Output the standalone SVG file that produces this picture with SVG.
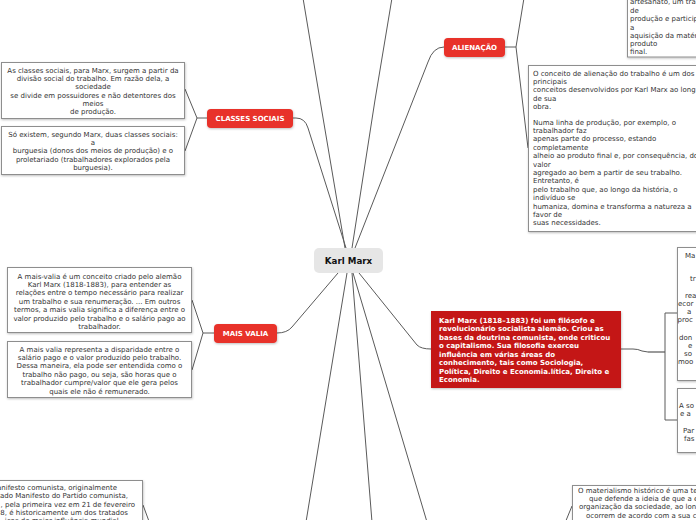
<svg xmlns="http://www.w3.org/2000/svg" width="696" height="520" viewBox="0 0 696 520">
<defs>
<filter id="sh" x="-10%" y="-20%" width="130%" height="150%">
<feDropShadow dx="0.5" dy="1" stdDeviation="0.8" flood-color="#000" flood-opacity="0.25"/>
</filter>
<style>
.box{fill:#fff;stroke:#8e8e8e;stroke-width:1;filter:url(#sh)}
.t{font-family:"DejaVu Sans",Verdana,sans-serif;font-size:7px;fill:#333}
.c{text-anchor:middle}
.e{text-anchor:end}
.red{fill:#e8302a;filter:url(#sh)}
.lbl{font-family:"DejaVu Sans",Verdana,sans-serif;font-size:7px;font-weight:bold;fill:#fff;text-anchor:middle}
.ln{fill:none;stroke:#5a5a5a;stroke-width:1}
</style>
</defs>
<rect width="696" height="520" fill="#fff"/>
<g id="connectors">
<path class="ln" d="M320,100 L303,-2 M320,100 L345,248"/>
<path class="ln" d="M375,100 L392,-2 M375,100 L352,248"/>
<path class="ln" d="M355,248 L428,62 Q433,47 444,47"/>
<path class="ln" d="M346,248 L308,128 Q305,118 296,118 L293,118"/>
<path class="ln" d="M338,273 L292,327 Q287,333 277,333"/>
<path class="ln" d="M359,273 L417,345 Q421,349 431,349"/>
<path class="ln" d="M347,273 L306,522"/>
<path class="ln" d="M352,273 L372,522"/>
<path class="ln" d="M353,273 L427,522"/>
<path class="ln" d="M505,47 L516,47 L524,-2 M516,47 L528,148"/>
<path class="ln" d="M207,118 L197,118 L185,89 M197,118 L185,151"/>
<path class="ln" d="M214,333 L203,333 L192,300 M203,333 L192,370"/>
<path class="ln" d="M621,349 L633,349 Q638,349 642,351 L648,352"/>
<path fill="none" stroke="#9a9a9a" stroke-width="2" d="M648,352 L665,352"/>
<path class="ln" d="M677,313 L665,313 L665,420 L677,420"/>
<path class="ln" d="M150,524 L143,505"/>
<path class="ln" d="M565,523 L572,506"/>
</g>
<g id="karl-marx">
<rect x="314" y="248" width="69" height="25" rx="5" fill="#e6e6e6"/>
<text x="348.5" y="264" font-family="DejaVu Sans,Verdana,sans-serif" font-size="8.7" font-weight="bold" fill="#111" text-anchor="middle">Karl Marx</text>
</g>
<g id="alienacao">
<rect class="red" x="444" y="38" width="61" height="19" rx="4"/>
<text class="lbl" x="474.5" y="50">ALIENAÇÃO</text>
</g>
<g id="alienacao-artesanato">
<rect class="box" x="627.5" y="-20" width="80" height="77"/>
<text class="t"><tspan x="630" y="4">artesanato, um tra</tspan><tspan x="630" y="12.5">de</tspan><tspan x="630" y="21">produção e particip</tspan><tspan x="630" y="29.5">a</tspan><tspan x="630" y="37.5">aquisição da matér</tspan><tspan x="630" y="46">produto</tspan><tspan x="630" y="54">final.</tspan></text>
</g>
<g id="alienacao-conceito">
<rect class="box" x="528.5" y="65.5" width="180" height="166"/>
<text class="t"><tspan x="533" y="75.5">O conceito de alienação do trabalho é um dos</tspan><tspan x="533" y="83.8">principais</tspan><tspan x="533" y="92.2">conceitos desenvolvidos por Karl Marx ao long</tspan><tspan x="533" y="100.5">de sua</tspan><tspan x="533" y="108.8">obra.</tspan><tspan x="533" y="124.5">Numa linha de produção, por exemplo, o</tspan><tspan x="533" y="132.9">trabalhador faz</tspan><tspan x="533" y="141.3">apenas parte do processo, estando</tspan><tspan x="533" y="149.7">completamente</tspan><tspan x="533" y="158.1">alheio ao produto final e, por consequência, do</tspan><tspan x="533" y="166.5">valor</tspan><tspan x="533" y="174.9">agregado ao bem a partir de seu trabalho.</tspan><tspan x="533" y="183.3">Entretanto, é</tspan><tspan x="533" y="191.7">pelo trabalho que, ao longo da história, o</tspan><tspan x="533" y="200.1">indivíduo se</tspan><tspan x="533" y="208.5">humaniza, domina e transforma a natureza a</tspan><tspan x="533" y="216.9">favor de</tspan><tspan x="533" y="225.3">suas necessidades.</tspan></text>
</g>
<g id="classes-sociais">
<rect class="red" x="207" y="109" width="86" height="19" rx="4"/>
<text class="lbl" x="250" y="121">CLASSES SOCIAIS</text>
</g>
<g id="classes-divisao">
<rect class="box" x="1.5" y="62.5" width="183" height="56"/>
<text class="t c"><tspan x="93" y="72.5">As classes sociais, para Marx, surgem a partir da</tspan><tspan x="93" y="80.8">divisão social do trabalho. Em razão dela, a</tspan><tspan x="93" y="89.2">sociedade</tspan><tspan x="93" y="97.5">se divide em possuidores e não detentores dos</tspan><tspan x="93" y="105.8">meios</tspan><tspan x="93" y="114.2">de produção.</tspan></text>
</g>
<g id="classes-duas">
<rect class="box" x="1.5" y="126.5" width="183" height="48"/>
<text class="t c"><tspan x="93" y="136.5">Só existem, segundo Marx, duas classes sociais:</tspan><tspan x="93" y="144.8">a</tspan><tspan x="93" y="153.2">burguesia (donos dos meios de produção) e o</tspan><tspan x="93" y="161.5">proletariado (trabalhadores explorados pela</tspan><tspan x="93" y="169.8">burguesia).</tspan></text>
</g>
<g id="mais-valia">
<rect class="red" x="214" y="324" width="63" height="19" rx="4"/>
<text class="lbl" x="245.5" y="336">MAIS VALIA</text>
</g>
<g id="mais-valia-conceito">
<rect class="box" x="7.5" y="267.5" width="184" height="65"/>
<text class="t c"><tspan x="99.5" y="278.5">A mais-valia é um conceito criado pelo alemão</tspan><tspan x="99.5" y="286.9">Karl Marx (1818-1883), para entender as</tspan><tspan x="99.5" y="295.3">relações entre o tempo necessário para realizar</tspan><tspan x="99.5" y="303.7">um trabalho e sua renumeração. ... Em outros</tspan><tspan x="99.5" y="312.1">termos, a mais valia significa a diferença entre o</tspan><tspan x="99.5" y="320.5">valor produzido pelo trabalho e o salário pago ao</tspan><tspan x="99.5" y="328.9">trabalhador.</tspan></text>
</g>
<g id="mais-valia-disparidade">
<rect class="box" x="7.5" y="341.5" width="184" height="56"/>
<text class="t c"><tspan x="99.5" y="351.5">A mais valia representa a disparidade entre o</tspan><tspan x="99.5" y="359.9">salário pago e o valor produzido pelo trabalho.</tspan><tspan x="99.5" y="368.3">Dessa maneira, ela pode ser entendida como o</tspan><tspan x="99.5" y="376.7">trabalho não pago, ou seja, são horas que o</tspan><tspan x="99.5" y="385.1">trabalhador cumpre/valor que ele gera pelos</tspan><tspan x="99.5" y="393.5">quais ele não é remunerado.</tspan></text>
</g>
<g id="resumo">
<rect x="431" y="311" width="190" height="77" fill="#c41414" filter="url(#sh)"/>
<text class="t" font-weight="bold" fill="#fff" style="fill:#fff"><tspan x="439" y="322.5">Karl Marx (1818–1883) foi um filósofo e</tspan><tspan x="439" y="331">revolucionário socialista alemão. Criou as</tspan><tspan x="439" y="339.5">bases da doutrina comunista, onde criticou</tspan><tspan x="439" y="348">o capitalismo. Sua filosofia exerceu</tspan><tspan x="439" y="356.5">influência em várias áreas do</tspan><tspan x="439" y="365">conhecimento, tais como Sociologia,</tspan><tspan x="439" y="373.5">Política, Direito e Economia.lítica, Direito e</tspan><tspan x="439" y="382">Economia.</tspan></text>
</g>
<g id="direita-1">
<rect class="box" x="677.5" y="247.5" width="40" height="133"/>
<text class="t"><tspan x="685" y="257.5">Ma</tspan><tspan x="690" y="281">tr</tspan><tspan x="685" y="298">rea</tspan><tspan x="678" y="306">ecor</tspan><tspan x="687" y="314">a</tspan><tspan x="677.5" y="322">proc</tspan><tspan x="679" y="340">don</tspan><tspan x="688" y="348">e</tspan><tspan x="684" y="356">so</tspan><tspan x="678" y="364">moo</tspan></text>
</g>
<g id="direita-2">
<rect class="box" x="677.5" y="388.5" width="40" height="64"/>
<text class="t"><tspan x="679" y="407.5">A so</tspan><tspan x="680" y="415.5">e a</tspan><tspan x="683" y="432.5">Par</tspan><tspan x="684" y="440.5">fas</tspan></text>
</g>
<g id="manifesto">
<rect class="box" x="-40" y="480.5" width="182.5" height="60"/>
<text class="t e"><tspan x="117" y="489.5">anifesto comunista, originalmente</tspan><tspan x="128" y="498">ado Manifesto do Partido comunista,</tspan><tspan x="135" y="506.5">, pela primeira vez em 21 de fevereiro</tspan><tspan x="128" y="514.5">8, é historicamente um dos tratados</tspan><tspan x="121" y="523">icos de maior influência mundial.</tspan></text>
</g>
<g id="materialismo">
<rect class="box" x="572.5" y="485.5" width="140" height="60"/>
<text class="t"><tspan x="578" y="492.5">O materialismo histórico é uma te</tspan><tspan x="589" y="500.8">que defende a ideia de que a e</tspan><tspan x="579" y="509.2">organização da sociedade, ao lon</tspan><tspan x="586" y="517.5">ocorrem de acordo com a sua c</tspan></text>
</g>
</svg>
